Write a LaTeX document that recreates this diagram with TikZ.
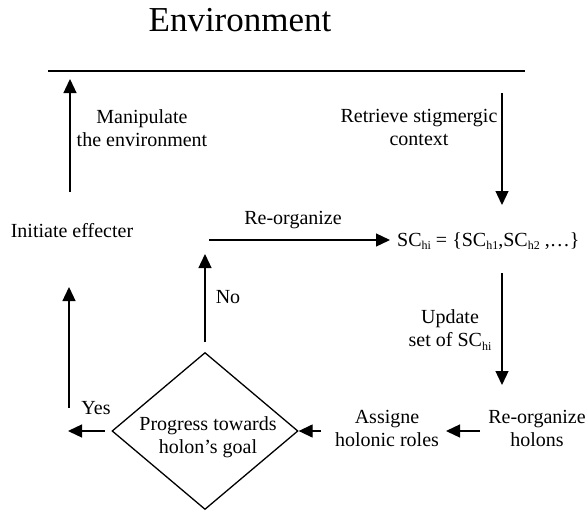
\documentclass[tikz,border=0pt]{standalone}
\usepackage{fontspec}
\setmainfont{Liberation Serif}
\usetikzlibrary{arrows.meta,shapes.geometric}
\newcommand{\sbs}[1]{\raisebox{-0.4ex}{\fontsize{12}{12}\selectfont #1}}
\begin{document}
\begin{tikzpicture}[x=1pt,y=-1pt,
  lbl/.style={font=\fontsize{20}{23}\selectfont, align=center, inner sep=0pt},
  ln/.style={line width=1.3pt},
  arr/.style={line width=1.3pt, -{Triangle[length=14pt,width=13pt]}}]
\useasboundingbox (0,0) rectangle (587,512);

% title and environment line
\node[lbl, font=\fontsize{35}{40}\selectfont] (env) at (240,20) {Environment};
\coordinate (envL) at (48,71);
\coordinate (envR) at (525,71);
\draw[ln] (envL) -- (envR);

% labels
\node[lbl] (manip) at (142,128) {Manipulate\\the environment};
\node[lbl] (retr) at (419,127) {Retrieve stigmergic\\context};
\node[lbl] (init) at (72,231) {Initiate effecter};
\node[lbl] (reorgl) at (293,220) {Re-organize};
\node[lbl, anchor=west] (sc) at (397,241) {SC\sbs{hi} = \{SC\sbs{h1},SC\sbs{h2} ,\ldots\}};
\node[lbl] (no) at (228,297) {No};
\node[lbl] (upd) at (450,330) {Update\\set of SC\sbs{hi}};
\node[lbl] (yes) at (96,408) {Yes};
\node[draw, diamond, ln, minimum width=186pt, minimum height=157pt, inner sep=0pt] (dia) at (205,431) {};
\node[lbl] (prog) at (208,437) {Progress towards\\holon’s goal};
\node[lbl] (assign) at (387,428) {Assigne\\holonic roles};
\node[lbl] (reorg) at (537,428) {Re-organize\\holons};

% arrow end points
\coordinate (a1s) at (70,192);  \coordinate (a1e) at (70,79);
\coordinate (a2s) at (502,93);  \coordinate (a2e) at (502,205);
\coordinate (a3s) at (209,240); \coordinate (a3e) at (390,240);
\coordinate (a4s) at (205,342); \coordinate (a4e) at (205,254);
\coordinate (a5s) at (69,408);  \coordinate (a5e) at (69,287);
\coordinate (a6s) at (502,273); \coordinate (a6e) at (502,385);
\coordinate (a7s) at (480,431); \coordinate (a7e) at (446,431);
\coordinate (a8s) at (321,431);
\coordinate (a9s) at (105,431); \coordinate (a9e) at (68,431);

\draw[arr] (a1s) -- (a1e);
\draw[arr] (a2s) -- (a2e);
\draw[arr] (a3s) -- (a3e);
\draw[arr] (a4s) -- (a4e);
\draw[arr] (a5s) -- (a5e);
\draw[arr] (a6s) -- (a6e);
\draw[arr] (a7s) -- (a7e);
\draw[arr] (a8s) -- (dia.east);
\draw[arr] (a9s) -- (a9e);
\end{tikzpicture}
\end{document}
